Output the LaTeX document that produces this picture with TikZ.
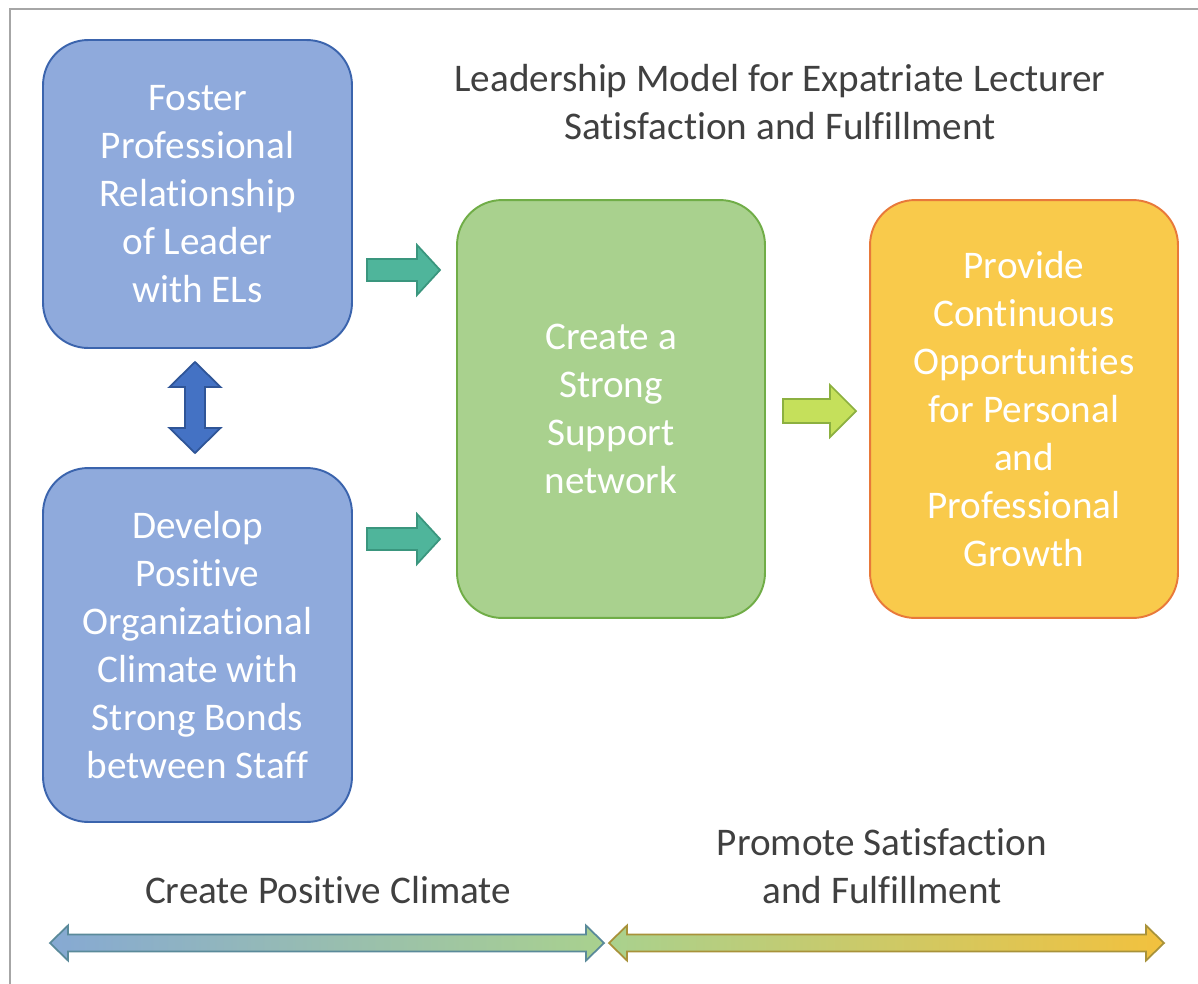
\documentclass[tikz,border=0pt]{standalone}
\usepackage{fontspec}
\setmainfont{Carlito}[Ligatures={NoCommon,NoRequired,NoContextual},RawFeature={-liga;-clig;-calt}]

\definecolor{blueFill}{HTML}{8FAADC}
\definecolor{blueLine}{HTML}{3B64AD}
\definecolor{greenFill}{HTML}{A9D18E}
\definecolor{greenLine}{HTML}{70AD47}
\definecolor{yellowFill}{HTML}{F9CA4B}
\definecolor{yellowLine}{HTML}{E8793A}
\definecolor{tealFill}{HTML}{4FB59B}
\definecolor{tealLine}{HTML}{3A967E}
\definecolor{vertFill}{HTML}{4472C4}
\definecolor{vertLine}{HTML}{2F5597}
\definecolor{limeFill}{HTML}{C5E05B}
\definecolor{limeLine}{HTML}{8CB040}
\definecolor{textGray}{HTML}{404040}
\definecolor{frameGray}{HTML}{A6A6A6}
\definecolor{climateBlue}{HTML}{86A9D3}
\definecolor{climateLine}{HTML}{5A8A9A}
\definecolor{growthLine}{HTML}{A8923A}
\definecolor{growthGold}{HTML}{F2C13E}

\tikzset{
  box/.style={draw, line width=1.1pt, rounded corners=0.9cm, align=center,
    text=white, font=\fontsize{22.3}{27.3}\selectfont, inner sep=0pt},
  caption/.style={align=center, text=textGray, font=\fontsize{22.3}{27.3}\selectfont},
  blockarrow/.style={line width=1pt, line join=miter}
}

\begin{document}
\begin{tikzpicture}[x=0.02cm, y=-0.02cm]
\useasboundingbox (0,0) rectangle (1198,984);
\draw[frameGray, line width=1.6pt] (10,984) -- (10,9) -- (1198,9);

\node[caption] (title) at (780,102) {Leadership Model for Expatriate Lecturer\\Satisfaction and Fulfillment};

\node[box, fill=blueFill, draw=blueLine, minimum width=6.18cm, minimum height=6.16cm] (foster) at (197.5,194) {Foster\\Professional\\Relationship\\of Leader\\with ELs};
\node[box, fill=blueFill, draw=blueLine, minimum width=6.18cm, minimum height=7.08cm] (develop) at (197.5,645) {Develop\\Positive\\Organizational\\Climate with\\Strong Bonds\\between Staff};
\node[box, fill=greenFill, draw=greenLine, minimum width=6.16cm, minimum height=8.36cm] (support) at (611,409) {Create a\\Strong\\Support\\network};
\node[box, fill=yellowFill, draw=yellowLine, minimum width=6.16cm, minimum height=8.36cm] (growth) at (1024,409) {Provide\\Continuous\\Opportunities\\for Personal\\and\\Professional\\Growth};

\filldraw[blockarrow, fill=tealFill, draw=tealLine] (367,259) -- (417,259) -- (417,245) -- (440,270) -- (417,295) -- (417,281) -- (367,281) -- cycle;
\filldraw[blockarrow, fill=tealFill, draw=tealLine] (367,528) -- (417,528) -- (417,514) -- (440,539) -- (417,564) -- (417,550) -- (367,550) -- cycle;
\filldraw[blockarrow, fill=limeFill, draw=limeLine] (783,399) -- (830,399) -- (830,385) -- (856,411) -- (830,437) -- (830,423) -- (783,423) -- cycle;
\filldraw[blockarrow, fill=vertFill, draw=vertLine] (195,362) -- (220.5,387) -- (205,387) -- (205,428) -- (220.5,428) -- (195,453) -- (169.5,428) -- (185,428) -- (185,387) -- (169.5,387) -- cycle;

\node[caption] (climate) at (328,890) {Create Positive Climate};
\node[caption] (promote) at (882,866) {Promote Satisfaction\\and Fulfillment};

\path[blockarrow, draw=climateLine, left color=climateBlue, right color=greenFill] (50,943) -- (68,925.5) -- (68,934.5) -- (586,934.5) -- (586,925.5) -- (604,943) -- (586,960.5) -- (586,951.5) -- (68,951.5) -- (68,960.5) -- cycle;
\path[blockarrow, draw=growthLine, left color=greenFill, right color=growthGold] (609,943) -- (627,925.5) -- (627,934.5) -- (1146,934.5) -- (1146,925.5) -- (1164,943) -- (1146,960.5) -- (1146,951.5) -- (627,951.5) -- (627,960.5) -- cycle;
\end{tikzpicture}
\end{document}
